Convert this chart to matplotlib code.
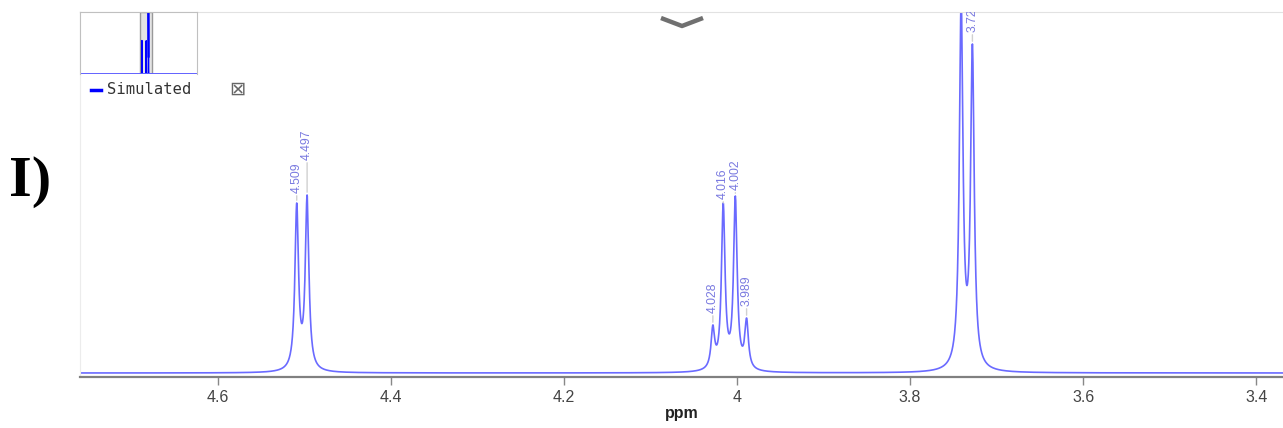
import numpy as np
import matplotlib
matplotlib.use("Agg")
import matplotlib.pyplot as plt
from matplotlib.lines import Line2D

# peak list (ppm, apex height above baseline, arbitrary units)
peak_ppm = [4.509, 4.497, 4.028, 4.016, 4.002, 3.989, 3.741, 3.728]
peak_apex = [170, 178, 48, 170, 177, 55, 375, 329]
peak_labels = ["4.509", "4.497", "4.028", "4.016", "4.002", "3.989", "3.741", "3.728"]
half_width = 0.0025  # ppm, lorentzian half width

xticks = [4.6, 4.4, 4.2, 4.0, 3.8, 3.6, 3.4]
xtick_labels = ["4.6", "4.4", "4.2", "4", "3.8", "3.6", "3.4"]

# gap between apex and label (pixels)
label_gap = [10, 35, 12, 4, 6, 12, 12, 12]

W, H = 1283, 428
fig = plt.figure(figsize=(W / 100, H / 100), dpi=100)


def lor(x, x0):
    return 1.0 / (1.0 + ((x - x0) / half_width) ** 2)


# amplitudes so that the summed lines hit the read apex heights
pos = np.array(peak_ppm)
M = np.array([[lor(a, b) for b in pos] for a in pos])
amps = np.linalg.solve(M, np.array(peak_apex, dtype=float))


def spectrum(x):
    y = np.zeros_like(x)
    for a, p in zip(amps, pos):
        y += a * lor(x, p)
    return y


# main axes: x 80..1283 px, y 12..377 px
ax = fig.add_axes([80 / W, (H - 377) / H, (W - 80) / W, 365 / H])
x = np.arange(3.35, 4.77, 0.0002)
ax.plot(x, spectrum(x), color="#6a6aff", lw=1.2)
ax.set_xlim(4.7595, 3.369)
ax.set_ylim(-4, 361)

for p, h, lab, g in zip(peak_ppm, spectrum(pos), peak_labels, label_gap):
    ax.annotate(lab, xy=(p, h), xytext=(0, g), textcoords="offset pixels",
                rotation=90, ha="center", va="bottom", fontsize=8.8,
                color="#7a7ae0", family="Liberation Sans", clip_on=True,
                arrowprops=dict(arrowstyle="-", color="#d0d0d0", lw=1,
                                shrinkA=0, shrinkB=2))

ax.set_xticks(xticks)
ax.set_xticklabels(xtick_labels)
ax.set_yticks([])
ax.tick_params(axis="x", direction="out", length=6, width=1, color="#888888",
               labelsize=11.5, labelcolor="#444444", pad=3)
for t in ax.get_xticklabels():
    t.set_family("Liberation Sans")
ax.set_xlabel("ppm", fontsize=11.5, fontweight="bold", color="#222222",
              family="Liberation Sans", labelpad=1)
ax.spines["bottom"].set_color("#808080")
ax.spines["bottom"].set_linewidth(1.6)
ax.spines["top"].set_color("#e2e2e2")
ax.spines["left"].set_color("#ececec")
ax.spines["right"].set_visible(False)

# overview inset: x 80..197 px, y 12..74 px
ins = fig.add_axes([80 / W, (H - 74) / H, 117 / W, 62 / H])
xi = np.arange(-2.0, 12.0, 0.0005)
yi = spectrum(xi)
ins.axvspan(4.7595, 3.369, color="#e4e4e4", ec="#999999", lw=1)
ins.plot(xi, yi, color="#0000ff", lw=1)
ins.axhline(0, color="#6a6aff", lw=2)
ins.set_xlim(11.7, -1.9)
ins.set_ylim(0, 330)
ins.set_xticks([])
ins.set_yticks([])
for s in ins.spines.values():
    s.set_color("#c0c0c0")
ins.spines["bottom"].set_visible(False)

# legend under the inset
fig.add_artist(Line2D([91 / W, 101 / W], [1 - 90 / H, 1 - 90 / H],
                      color="#0000ff", lw=2.5))
fig.text(107 / W, 1 - 90 / H, "Simulated", family="DejaVu Sans Mono",
         fontsize=11.2, color="#333333", va="center", ha="left")
fig.text(237 / W, 1 - 89 / H, "\u22a0", family="DejaVu Sans", fontsize=14,
         color="#666666", va="center", ha="center")

# collapse chevron at the top
fig.add_artist(Line2D([661 / W, 682 / W, 703 / W],
                      [1 - 18 / H, 1 - 26 / H, 1 - 18 / H],
                      color="#707070", lw=3.2, solid_capstyle="butt"))

# panel label
fig.text(30 / W, 1 - 182 / H, "I)", family="Liberation Serif",
         fontweight="bold", fontsize=42, ha="center", va="center")

fig.savefig("out.png", dpi=100)
